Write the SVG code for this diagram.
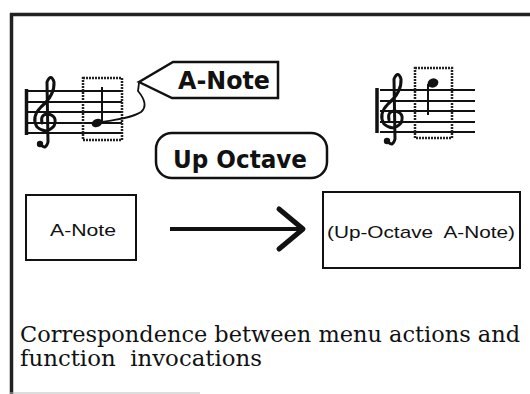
<svg xmlns="http://www.w3.org/2000/svg" width="530" height="394" viewBox="0 0 530 394">
  <style>
    .frame { stroke: #222; stroke-width: 3.5; fill: none; }
    .staff { stroke: #111; stroke-width: 2; fill: none; }
    .bar { stroke: #111; stroke-width: 3.5; }
    .clef { stroke: #111; stroke-width: 3; fill: none; stroke-linecap: round; }
    .sel { stroke: #222; stroke-width: 2.5; fill: none; stroke-dasharray: 2 1; }
    .box { stroke: #111; stroke-width: 2; fill: #fff; }
    .label { stroke: #111; stroke-width: 2.5; fill: #fff; }
    .chicago { font-family: "DejaVu Sans", sans-serif; font-weight: bold; font-size: 25px; fill: #111; }
    .sans { font-family: "Liberation Sans", Arial, sans-serif; font-size: 17px; fill: #111; }
    .caption { font-family: "DejaVu Serif", serif; font-size: 22px; fill: #111; }
    .conn { stroke: #111; fill: none; }
  </style>
  <defs>
    <g id="clefShape">
      <path class="clef" d="M 41 145 Q 46 150 48 142 L 47 82 Q 51 73 54 82 Q 55 95 41 107 Q 31 117 37 127 Q 46 135 54 126 Q 58 116 48 114 Q 40 114 42 123"/>
      <circle cx="40" cy="144" r="3.2" fill="#111"/>
    </g>
  </defs>

  <!-- frame -->
  <g id="frame">
    <line class="frame" x1="11.5" y1="13" x2="11.5" y2="394"/>
    <line class="frame" x1="10" y1="14.5" x2="530" y2="14.5"/>
    <line x1="10" y1="393" x2="200" y2="393" stroke="#bbb" stroke-width="1"/>
  </g>

  <!-- left staff with selected note -->
  <g id="staff-left">
    <line class="bar" x1="26.5" y1="89" x2="26.5" y2="135"/>
    <line class="staff" x1="28" y1="91" x2="122" y2="91"/>
    <line class="staff" x1="28" y1="102" x2="122" y2="102"/>
    <line class="staff" x1="28" y1="112" x2="122" y2="112"/>
    <line class="staff" x1="28" y1="123" x2="122" y2="123"/>
    <line class="staff" x1="28" y1="133" x2="122" y2="133"/>
    <use href="#clefShape"/>
    <rect class="sel" x="83" y="78" width="39" height="62"/>
    <ellipse cx="97" cy="123" rx="5.5" ry="4" fill="#111" transform="rotate(-20 97 123)"/>
    <line x1="102" y1="122" x2="102" y2="87" stroke="#111" stroke-width="2"/>
  </g>

  <!-- right staff with octave-raised note -->
  <g id="staff-right">
    <line class="bar" x1="377" y1="88" x2="377" y2="133"/>
    <line class="staff" x1="380" y1="90" x2="475" y2="90"/>
    <line class="staff" x1="380" y1="101" x2="475" y2="101"/>
    <line class="staff" x1="380" y1="111" x2="475" y2="111"/>
    <line class="staff" x1="380" y1="122" x2="475" y2="122"/>
    <line class="staff" x1="380" y1="132" x2="475" y2="132"/>
    <use href="#clefShape" transform="translate(347 -3)"/>
    <rect class="sel" x="415" y="68" width="37" height="70"/>
    <ellipse cx="433" cy="83" rx="5.5" ry="4.5" fill="#111" transform="rotate(-20 433 83)"/>
    <line x1="428" y1="84" x2="428" y2="115" stroke="#111" stroke-width="2"/>
  </g>

  <!-- connectors -->
  <g id="connectors">
    <path class="conn" stroke-width="1.8" d="M 101 122 C 115 120 132 118 141 112 C 148 106 143 97 138 91 L 139 83"/>
    <line class="conn" stroke-width="4" x1="170" y1="229" x2="300" y2="229"/>
    <polyline class="conn" stroke-width="5" stroke-linejoin="round" stroke-linecap="round" points="279,209 303,229 279,249"/>
  </g>

  <!-- A-Note callout label -->
  <g id="label-anote">
    <polygon class="label" points="139,82 173,62 278,62 278,98 172,98"/>
    <text class="chicago" x="178" y="89" textLength="92" lengthAdjust="spacingAndGlyphs">A-Note</text>
  </g>

  <!-- Up Octave menu item -->
  <g id="menu-upoctave">
    <rect class="label" x="156" y="133" width="171" height="45" rx="16"/>
    <text class="chicago" x="173" y="168" font-size="27" textLength="134" lengthAdjust="spacingAndGlyphs">Up Octave</text>
  </g>

  <!-- A-Note expression box -->
  <g id="box-anote">
    <rect class="box" x="26" y="195" width="110" height="65"/>
    <text class="sans" x="50" y="236" textLength="66" lengthAdjust="spacingAndGlyphs">A-Note</text>
  </g>

  <!-- result expression box -->
  <g id="box-result">
    <rect class="box" x="323" y="192" width="197" height="76"/>
    <text class="sans" x="327" y="238" textLength="188" lengthAdjust="spacingAndGlyphs" xml:space="preserve">(Up-Octave  A-Note)</text>
  </g>

  <!-- caption -->
  <g id="caption">
    <text class="caption" x="20" y="342" textLength="500" lengthAdjust="spacingAndGlyphs">Correspondence between menu actions and</text>
    <text class="caption" x="20" y="366" textLength="242" lengthAdjust="spacingAndGlyphs" xml:space="preserve">function  invocations</text>
  </g>
</svg>
